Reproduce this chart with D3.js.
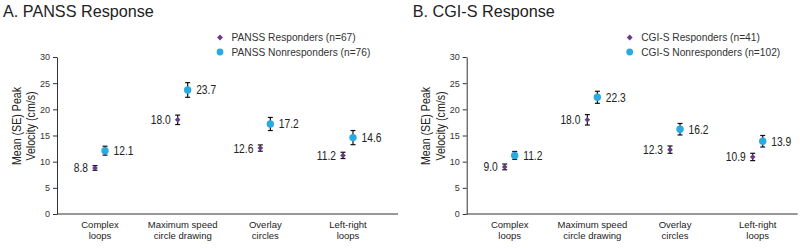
<!DOCTYPE html>
<html>
<head>
<meta charset="utf-8">
<script src="https://cdn.jsdelivr.net/npm/d3@7"></script>
<style>
  body { margin: 0; background: #fff; }
  text { font-family: "Liberation Sans", Arial, sans-serif; }
</style>
</head>
<body>
<div id="chart"></div>
<script>
// data
const categories = ["Complex loops", "Maximum speed circle drawing", "Overlay circles", "Left-right loops"];
const catLines = [["Complex", "loops"], ["Maximum speed", "circle drawing"], ["Overlay", "circles"], ["Left-right", "loops"]];
const yTicks = [0, 5, 10, 15, 20, 25, 30];

const panssResp = [8.8, 18.0, 12.6, 11.2];
const panssRespSE = [0.45, 0.9, 0.6, 0.6];
const panssNon = [12.1, 23.7, 17.2, 14.6];
const panssNonSE = [0.85, 1.4, 1.25, 1.35];

const cgiResp = [9.0, 18.0, 12.3, 10.9];
const cgiRespSE = [0.55, 1.0, 0.7, 0.7];
const cgiNon = [11.2, 22.3, 16.2, 13.9];
const cgiNonSE = [0.75, 1.15, 1.1, 1.1];

const purple = "#6a3b8c";
const blue = "#29aae1";
// the value labels and y title are set in a condensed face
const narrow = 0.82;

const W = 800, H = 248;
const svg = d3.select("#chart").append("svg")
    .attr("width", W)
    .attr("height", H);

function panel(ox, title, legend, resp, respSE, non, nonSE, axisW) {
    const g = svg.append("g").attr("transform", `translate(${ox},0)`);
    const x0 = 57;
    const y = d3.scaleLinear().domain([0, 30]).range([214, 57]);
    const x = d3.scalePoint().domain(categories).range([x0 + 43, x0 + 291]);
    const off = 5;

    // title
    g.append("text")
        .attr("x", 3)
        .attr("y", 17)
        .style("font-size", "16.2px")
        .attr("fill", "#222")
        .text(title);

    // legend
    const lg = g.append("g").attr("transform", "translate(220,0)");
    lg.append("path")
        .attr("d", d3.symbol().type(d3.symbolDiamond2).size(22)())
        .attr("transform", "translate(0,37.5)")
        .attr("fill", purple);
    lg.append("circle").attr("cx", 0).attr("cy", 52).attr("r", 3.4).attr("fill", blue);
    lg.append("text").attr("x", 11.5).attr("y", 41.3).style("font-size", "10.2px").attr("fill", "#333").text(legend[0]);
    lg.append("text").attr("x", 11.5).attr("y", 55.8).style("font-size", "10.2px").attr("fill", "#333").text(legend[1]);

    // y axis
    const ay = g.append("g")
        .attr("transform", `translate(${x0},0)`)
        .call(d3.axisLeft(y).tickValues(yTicks).tickSize(4).tickPadding(3).tickSizeOuter(0));
    ay.selectAll("text").style("font-size", "9px").attr("fill", "#333");
    ay.selectAll("line, path").attr("stroke", "#333");

    // x axis line
    g.append("line")
        .attr("x1", x0).attr("x2", x0 + axisW)
        .attr("y1", y(0)).attr("y2", y(0))
        .attr("stroke", "#333");

    // category labels
    categories.forEach(function(c, i) {
        const t = g.append("text")
            .attr("x", x(c))
            .attr("y", 228)
            .attr("text-anchor", "middle")
            .style("font-size", "9.5px")
            .attr("fill", "#222");
        t.append("tspan").attr("x", x(c)).text(catLines[i][0]);
        t.append("tspan").attr("x", x(c)).attr("dy", 11.2).text(catLines[i][1]);
    });

    // y axis title
    const yt = g.append("text")
        .attr("transform", `translate(20.5,126) rotate(-90) scale(${narrow},1)`)
        .attr("text-anchor", "middle")
        .style("font-size", "13px")
        .attr("fill", "#222");
    yt.append("tspan").attr("x", 0).attr("y", 0).text("Mean (SE) Peak");
    yt.append("tspan").attr("x", 0).attr("y", 14.5).text("Velocity (cm/s)");

    function series(vals, se, dx, kind) {
        vals.forEach(function(v, i) {
            const cx = x(categories[i]) + dx;
            const top = y(v + se[i]), bot = y(v - se[i]);
            g.append("line").attr("x1", cx).attr("x2", cx).attr("y1", top).attr("y2", bot)
                .attr("stroke", "#111").attr("stroke-width", 1.2);
            [top, bot].forEach(function(yy) {
                g.append("line").attr("x1", cx - 2.5).attr("x2", cx + 2.5).attr("y1", yy).attr("y2", yy)
                    .attr("stroke", "#111").attr("stroke-width", 1.2);
            });
            let lx, anchor;
            if (kind === "diamond") {
                g.append("path")
                    .attr("d", d3.symbol().type(d3.symbolDiamond2).size(20)())
                    .attr("transform", `translate(${cx},${y(v)})`)
                    .attr("fill", purple);
                lx = cx - 7; anchor = "end";
            } else {
                g.append("circle").attr("cx", cx).attr("cy", y(v)).attr("r", 3.7).attr("fill", blue);
                lx = cx + 8.5; anchor = "start";
            }
            g.append("text")
                .attr("transform", `translate(${lx},${y(v) + 4.5}) scale(${narrow},1)`)
                .attr("text-anchor", anchor)
                .style("font-size", "12.5px")
                .attr("fill", "#222")
                .text(v.toFixed(1));
        });
    }

    series(resp, respSE, -off, "diamond");
    series(non, nonSE, off, "circle");
}

panel(0, "A. PANSS Response", ["PANSS Responders (n=67)", "PANSS Nonresponders (n=76)"],
    panssResp, panssRespSE, panssNon, panssNonSE, 341);
panel(409.7, "B. CGI-S Response", ["CGI-S Responders (n=41)", "CGI-S Nonresponders (n=102)"],
    cgiResp, cgiRespSE, cgiNon, cgiNonSE, 331);
</script>
</body>
</html>
